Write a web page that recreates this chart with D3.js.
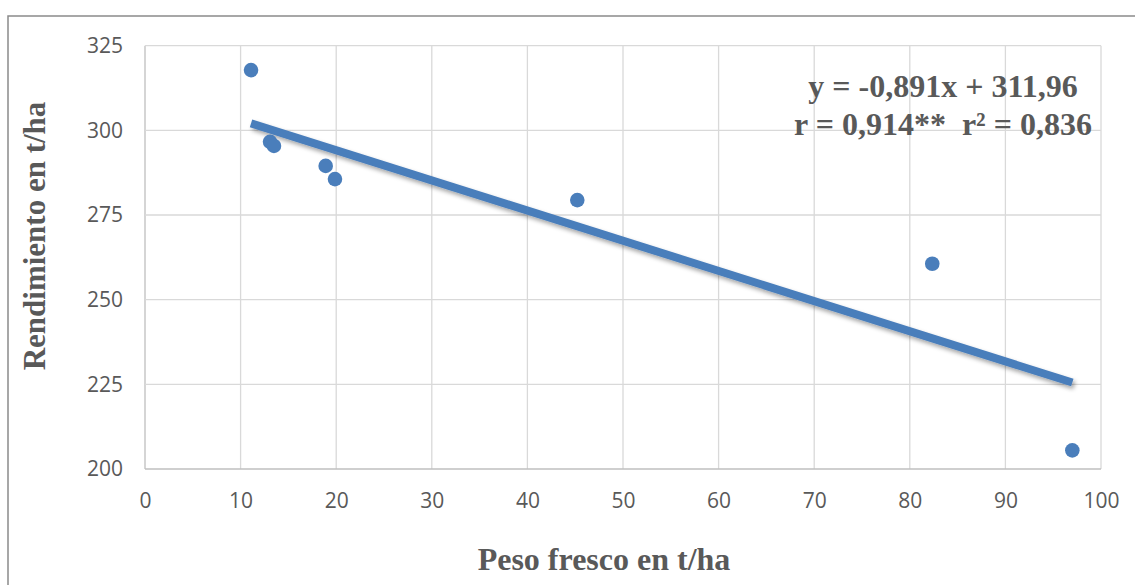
<!DOCTYPE html>
<html><head><meta charset="utf-8">
<script src="https://cdn.jsdelivr.net/npm/d3@7"></script>
<style>body{margin:0;background:#fff}svg{display:block}</style>
</head><body>
<svg id="c" width="1135" height="585"></svg>
<script>
const pesoFresco = [11.09, 13.08, 13.49, 18.9, 19.87, 45.22, 82.35, 97.0];
const rendimiento = [317.8, 296.6, 295.4, 289.5, 285.6, 279.4, 260.6, 205.5];
const xTicks = [0,10,20,30,40,50,60,70,80,90,100];
const yTicks = [200,225,250,275,300,325];
const slope = -0.891, intercept = 311.96;
const eqLines = ["y = -0,891x + 311,96", "r = 0,914**\u00A0 r² = 0,836"];
const xTitle = "Peso fresco en t/ha", yTitle = "Rendimiento en t/ha";

const svg = d3.select("#c");
const x = d3.scaleLinear().domain([0,100]).range([145,1101]);
const y = d3.scaleLinear().domain([200,325]).range([469,45.7]);
const col = "#4a7ebb";

const defs = svg.append("defs");
const f = defs.append("filter").attr("id","sh").attr("x","-10%").attr("y","-50%").attr("width","120%").attr("height","200%");
f.append("feDropShadow").attr("dx",2).attr("dy",3).attr("stdDeviation",2.2).attr("flood-color","#000").attr("flood-opacity",0.35);

// outer border
svg.append("rect").attr("x",8).attr("y",16).attr("width",1140).attr("height",600)
  .attr("fill","none").attr("stroke","#8a8a8a").attr("stroke-width",1.5);

// gridlines
svg.append("g").selectAll("line").data(xTicks).join("line")
  .attr("x1",d=>x(d)).attr("x2",d=>x(d)).attr("y1",y(325)).attr("y2",y(200))
  .attr("stroke",d=>d===0?"#bfbfbf":"#d9d9d9").attr("stroke-width",1.3);
svg.append("g").selectAll("line").data(yTicks).join("line")
  .attr("x1",x(0)).attr("x2",x(100)).attr("y1",d=>y(d)).attr("y2",d=>y(d))
  .attr("stroke",d=>d===200?"#bfbfbf":"#d9d9d9").attr("stroke-width",1.3);

// axes labels
const xa = svg.append("g").attr("transform",`translate(0,${y(200)})`)
  .call(d3.axisBottom(x).tickValues(xTicks).tickSize(0).tickPadding(24));
const ya = svg.append("g").attr("transform",`translate(${x(0)},0)`)
  .call(d3.axisLeft(y).tickValues(yTicks).tickSize(0).tickPadding(22));
[xa,ya].forEach(a=>{a.select(".domain").remove();
  a.selectAll("text").attr("font-family","'Open Sans', 'Noto Sans', sans-serif").attr("font-size",21).attr("fill","#595959");});

// trendline
const xMin = d3.min(pesoFresco), xMax = d3.max(pesoFresco);
svg.append("line").attr("x1",x(xMin)).attr("y1",y(slope*xMin+intercept))
  .attr("x2",x(xMax)).attr("y2",y(slope*xMax+intercept))
  .attr("stroke",col).attr("stroke-width",8).attr("filter","url(#sh)");

// points
svg.append("g").selectAll("circle").data(pesoFresco).join("circle")
  .attr("cx",d=>x(d)).attr("cy",(d,i)=>y(rendimiento[i])).attr("r",7.3).attr("fill",col);

// equation
svg.append("g").selectAll("text").data(eqLines).join("text")
  .attr("x",943).attr("y",(d,i)=>97+i*38).attr("text-anchor","middle")
  .attr("font-family","'Liberation Serif', 'Times New Roman', serif").attr("font-weight","bold")
  .attr("font-size",32).attr("fill","#595959").text(d=>d);

// axis titles
svg.append("text").attr("x",604).attr("y",570).attr("text-anchor","middle")
  .attr("font-family","'Liberation Serif', serif").attr("font-weight","bold")
  .attr("font-size",32).attr("fill","#595959").text(xTitle);
svg.append("text").attr("transform","translate(45,236) rotate(-90)").attr("text-anchor","middle")
  .attr("font-family","'Liberation Serif', serif").attr("font-weight","bold")
  .attr("font-size",31).attr("fill","#595959").text(yTitle);
</script>
</body></html>
